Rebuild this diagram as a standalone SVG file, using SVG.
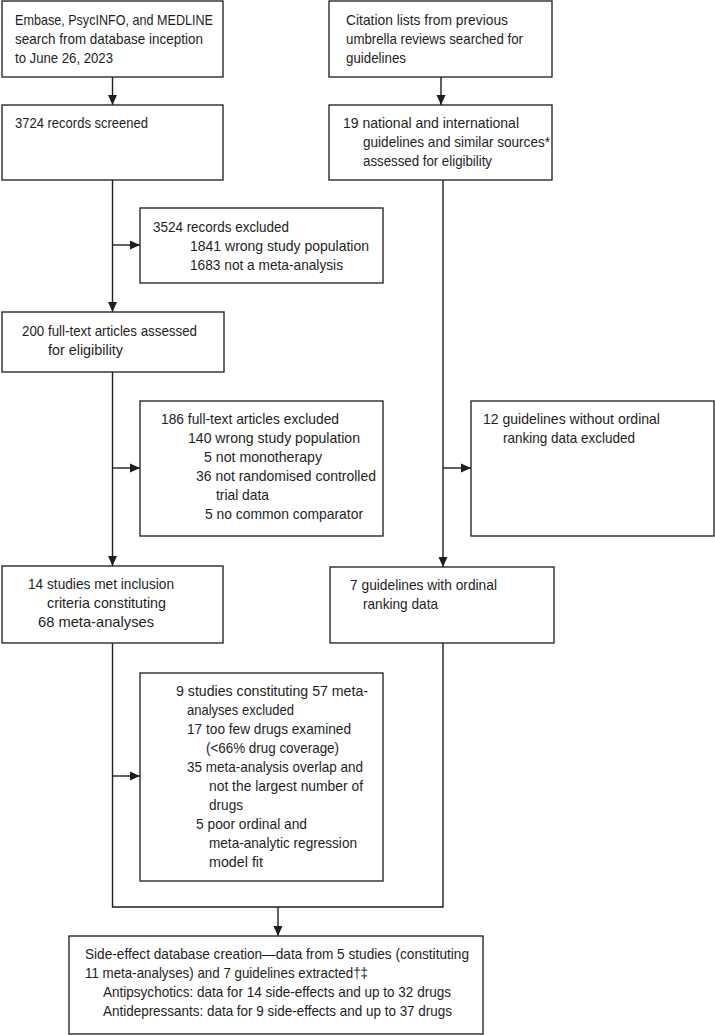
<svg xmlns="http://www.w3.org/2000/svg" width="715" height="1035" viewBox="0 0 715 1035">
<style>
rect{fill:#fff;stroke:#2b2b2b;stroke-width:1.4}
text{font-family:"Liberation Sans",Arial,sans-serif;font-size:14.5px;fill:#1e1e1e}
.c{fill:none;stroke:#1e1e1e;stroke-width:1.4}
</style>
<defs>
<marker id="ah" markerUnits="userSpaceOnUse" markerWidth="10" markerHeight="10" refX="10" refY="5" orient="auto">
<path d="M0,0.5 L10,5 L0,9.5 z" fill="#1e1e1e"/>
</marker>
</defs>
<rect x="0" y="0" width="715" height="1035" style="fill:#fff;stroke:none"/>
<g id="connectors">
<line class="c" x1="112.5" y1="77" x2="112.5" y2="105" marker-end="url(#ah)"/>
<line class="c" x1="441" y1="77" x2="441" y2="105" marker-end="url(#ah)"/>
<line class="c" x1="112.5" y1="180" x2="112.5" y2="312" marker-end="url(#ah)"/>
<line class="c" x1="112.5" y1="245" x2="140" y2="245" marker-end="url(#ah)"/>
<line class="c" x1="112.5" y1="372" x2="112.5" y2="566" marker-end="url(#ah)"/>
<line class="c" x1="112.5" y1="468" x2="140" y2="468" marker-end="url(#ah)"/>
<line class="c" x1="443" y1="180" x2="443" y2="567" marker-end="url(#ah)"/>
<line class="c" x1="443" y1="468" x2="471" y2="468" marker-end="url(#ah)"/>
<polyline class="c" points="112.5,643 112.5,907 443,907 443,643"/>
<line class="c" x1="112.5" y1="776" x2="140" y2="776" marker-end="url(#ah)"/>
<line class="c" x1="278" y1="907" x2="278" y2="936" marker-end="url(#ah)"/>
</g>
<g id="n1"><rect x="2" y="1" width="221" height="76"/>
<text x="15" y="25" textLength="198" lengthAdjust="spacingAndGlyphs">Embase, PsycINFO, and MEDLINE</text>
<text x="15" y="44" textLength="188" lengthAdjust="spacingAndGlyphs">search from database inception</text>
<text x="15" y="63" textLength="98" lengthAdjust="spacingAndGlyphs">to June 26, 2023</text></g>
<g id="n2"><rect x="329" y="1" width="223" height="76"/>
<text x="346" y="25" textLength="162" lengthAdjust="spacingAndGlyphs">Citation lists from previous</text>
<text x="346" y="44" textLength="177" lengthAdjust="spacingAndGlyphs">umbrella reviews searched for</text>
<text x="346" y="63" textLength="60" lengthAdjust="spacingAndGlyphs">guidelines</text></g>
<g id="n3"><rect x="2" y="105" width="221" height="75"/>
<text x="15" y="128" textLength="133" lengthAdjust="spacingAndGlyphs">3724 records screened</text></g>
<g id="n4"><rect x="329" y="105" width="223" height="75"/>
<text x="343" y="128" textLength="176" lengthAdjust="spacingAndGlyphs">19 national and international</text>
<text x="363" y="147" textLength="187" lengthAdjust="spacingAndGlyphs">guidelines and similar sources*</text>
<text x="363" y="166" textLength="129" lengthAdjust="spacingAndGlyphs">assessed for eligibility</text></g>
<g id="n5"><rect x="140" y="208" width="243" height="75"/>
<text x="153" y="232" textLength="136" lengthAdjust="spacingAndGlyphs">3524 records excluded</text>
<text x="190" y="251" textLength="179" lengthAdjust="spacingAndGlyphs">1841 wrong study population</text>
<text x="190" y="270" textLength="153" lengthAdjust="spacingAndGlyphs">1683 not a meta-analysis</text></g>
<g id="n6"><rect x="2" y="312" width="222" height="60"/>
<text x="22" y="336" textLength="175" lengthAdjust="spacingAndGlyphs">200 full-text articles assessed</text>
<text x="48" y="355" textLength="75" lengthAdjust="spacingAndGlyphs">for eligibility</text></g>
<g id="n7"><rect x="140" y="401" width="243" height="135"/>
<text x="161" y="424" textLength="178" lengthAdjust="spacingAndGlyphs">186 full-text articles excluded</text>
<text x="188" y="443" textLength="172" lengthAdjust="spacingAndGlyphs">140 wrong study population</text>
<text x="204" y="462" textLength="118" lengthAdjust="spacingAndGlyphs">5 not monotherapy</text>
<text x="196" y="481" textLength="180" lengthAdjust="spacingAndGlyphs">36 not randomised controlled</text>
<text x="216" y="500" textLength="53" lengthAdjust="spacingAndGlyphs">trial data</text>
<text x="205" y="519" textLength="158" lengthAdjust="spacingAndGlyphs">5 no common comparator</text></g>
<g id="n8"><rect x="471" y="401" width="243" height="135"/>
<text x="483" y="424" textLength="177" lengthAdjust="spacingAndGlyphs">12 guidelines without ordinal</text>
<text x="503" y="443" textLength="132" lengthAdjust="spacingAndGlyphs">ranking data excluded</text></g>
<g id="n9"><rect x="2" y="566" width="221" height="77"/>
<text x="28" y="589" textLength="146" lengthAdjust="spacingAndGlyphs">14 studies met inclusion</text>
<text x="47" y="608" textLength="119" lengthAdjust="spacingAndGlyphs">criteria constituting</text>
<text x="38" y="627" textLength="116" lengthAdjust="spacingAndGlyphs">68 meta-analyses</text></g>
<g id="n10"><rect x="330" y="567" width="224" height="76"/>
<text x="350" y="590" textLength="147" lengthAdjust="spacingAndGlyphs">7 guidelines with ordinal</text>
<text x="363" y="609" textLength="75" lengthAdjust="spacingAndGlyphs">ranking data</text></g>
<g id="n11"><rect x="140" y="673" width="243" height="208"/>
<text x="176" y="696" textLength="192" lengthAdjust="spacingAndGlyphs">9 studies constituting 57 meta-</text>
<text x="187" y="715" textLength="107" lengthAdjust="spacingAndGlyphs">analyses excluded</text>
<text x="187" y="734" textLength="164" lengthAdjust="spacingAndGlyphs">17 too few drugs examined</text>
<text x="206" y="753" textLength="133" lengthAdjust="spacingAndGlyphs">(&lt;66% drug coverage)</text>
<text x="187" y="772" textLength="176" lengthAdjust="spacingAndGlyphs">35 meta-analysis overlap and</text>
<text x="209" y="791" textLength="154" lengthAdjust="spacingAndGlyphs">not the largest number of</text>
<text x="209" y="810" textLength="34" lengthAdjust="spacingAndGlyphs">drugs</text>
<text x="196" y="829" textLength="111" lengthAdjust="spacingAndGlyphs">5 poor ordinal and</text>
<text x="209" y="848" textLength="148" lengthAdjust="spacingAndGlyphs">meta-analytic regression</text>
<text x="209" y="867" textLength="54" lengthAdjust="spacingAndGlyphs">model fit</text></g>
<g id="n12"><rect x="69" y="936" width="414" height="98"/>
<text x="85" y="959" textLength="384" lengthAdjust="spacingAndGlyphs">Side-effect database creation—data from 5 studies (constituting</text>
<text x="85" y="978" textLength="283" lengthAdjust="spacingAndGlyphs">11 meta-analyses) and 7 guidelines extracted†‡</text>
<text x="103" y="997" textLength="348" lengthAdjust="spacingAndGlyphs">Antipsychotics: data for 14 side-effects and up to 32 drugs</text>
<text x="103" y="1016" textLength="349" lengthAdjust="spacingAndGlyphs">Antidepressants: data for 9 side-effects and up to 37 drugs</text></g>
</svg>
